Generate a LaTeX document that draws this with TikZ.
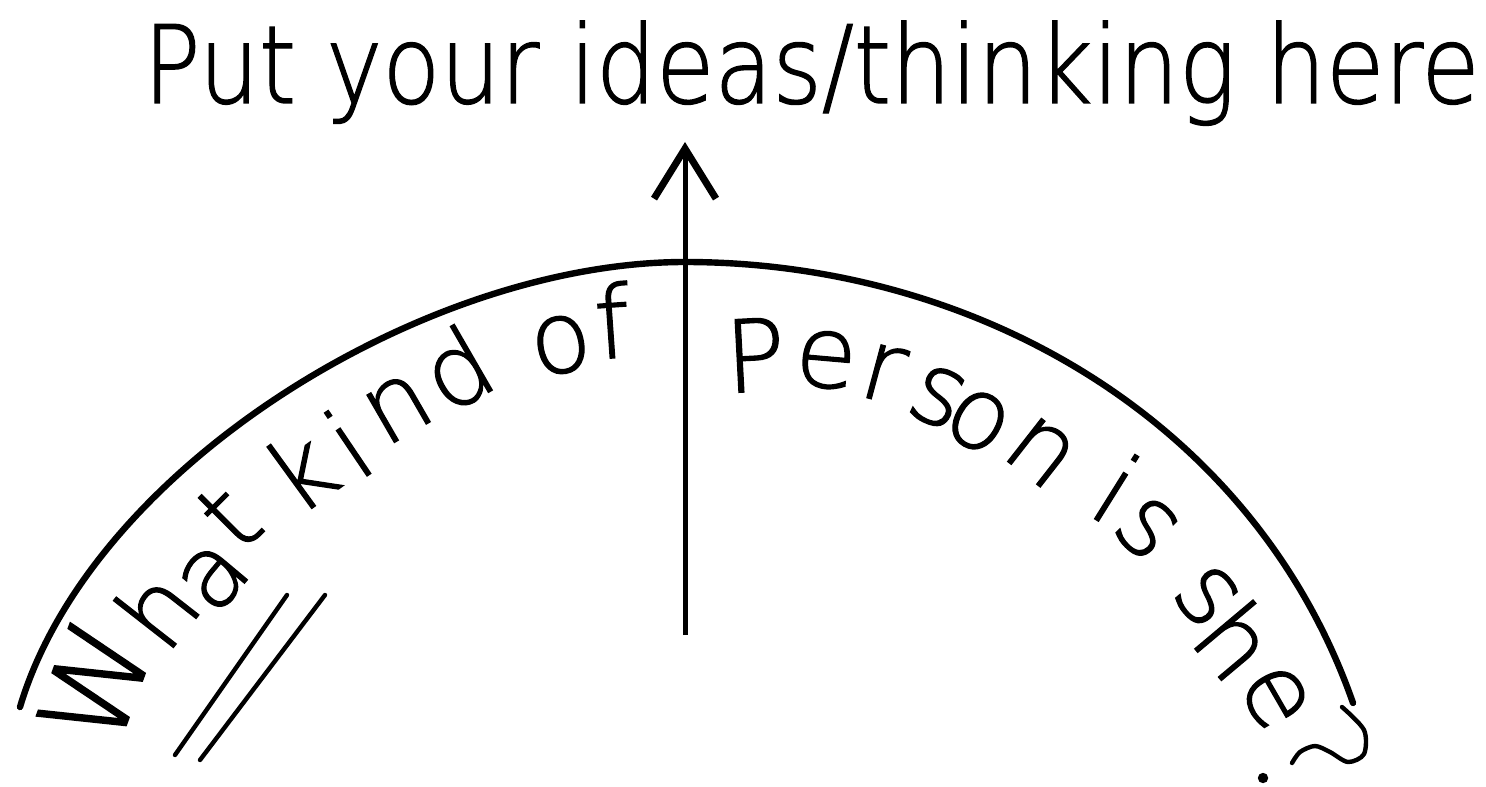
\documentclass[tikz,border=0pt]{standalone}
\usepackage{fontspec}
\setmainfont{DejaVu Sans ExtraLight}[FakeBold=1.3]
\usepackage{graphicx}
\usetikzlibrary{arrows.meta}
\begin{document}
\begin{tikzpicture}[x=0.5pt,y=-0.5pt,
  arcline/.style={line width=3.2pt, line cap=round, line join=round},
  inkline/.style={line width=2.2pt, line cap=round, line join=round},
  arrowline/.style={line width=2.5pt, -{Straight Barb[length=25pt,width=31pt,line width=3.5pt]}},
  lchar/.style={inner sep=0pt, font=\fontsize{50}{55}\selectfont, rotate=#1},
  rchar/.style={inner sep=0pt, font=\fontsize{50}{55}\selectfont, rotate=#1}]
\useasboundingbox (0,0) rectangle (1486,786);
% heading
\node[anchor=base west, inner sep=0pt] (title) at (143,103)
  {\resizebox{668pt}{\height}{\fontsize{54}{60}\selectfont Put your ideas/thinking here}};
% arc
\coordinate (arcL) at (20,707);
\coordinate (arcT) at (685,262);
\coordinate (arcR) at (1353,703);
\draw[arcline] (arcL) .. controls (91.5,467.5) and (425,262) .. (arcT)
                      .. controls (975,262) and (1254,420) .. (arcR);
% question-mark curl and dot
\draw[inkline] plot[smooth] coordinates {(1342,707) (1364,730) (1364,754) (1348,762) (1330,752) (1315,746) (1300,752) (1292,763)};
\fill (1263,778) circle[radius=2.6pt];
% arrow
\coordinate (tail) at (685,635);
\coordinate (tip) at (685,142);
\draw[arrowline] (tail) -- (tip);
% "What kind of" along the left of the arc
\node[lchar=70, font=\fontsize{60}{66}\selectfont] (c1) at (95,683) {W};
\node[lchar=52] (c2) at (156,608) {h};
\node[lchar=50] (c3) at (214,577) {a};
\node[lchar=45] (c4) at (229,517) {t};
\node[lchar=36] (c5) at (300,470) {k};
\node[lchar=34] (c6) at (348,443) {i};
\node[lchar=30] (c7) at (398,408) {n};
\node[lchar=30] (c8) at (456,368) {d};
\node[lchar=10] (c9) at (561,345) {o};
\node[lchar=4] (c10) at (612,320) {f};
% "Person is she" along the right of the arc
\node[rchar=3] (d1) at (755,355) {P};
\node[rchar=-5] (d2) at (826,360) {e};
\node[rchar=-15] (d3) at (883,373) {r};
\node[rchar=-25] (d4) at (938,397) {s};
\node[rchar=-30] (d5) at (978,421) {o};
\node[rchar=-38] (d6) at (1041,452) {n};
\node[rchar=-32] (d7) at (1117,488) {i};
\node[rchar=-45] (d8) at (1147,528) {s};
\node[rchar=-50] (d9) at (1207,596) {s};
\node[rchar=-50] (d10) at (1237,640) {h};
\node[rchar=-60] (d11) at (1275,697) {e};
% double underline
\draw[inkline] (175,755) -- (287,595);
\draw[inkline] (200,760) -- (325,595);
\end{tikzpicture}
\end{document}
